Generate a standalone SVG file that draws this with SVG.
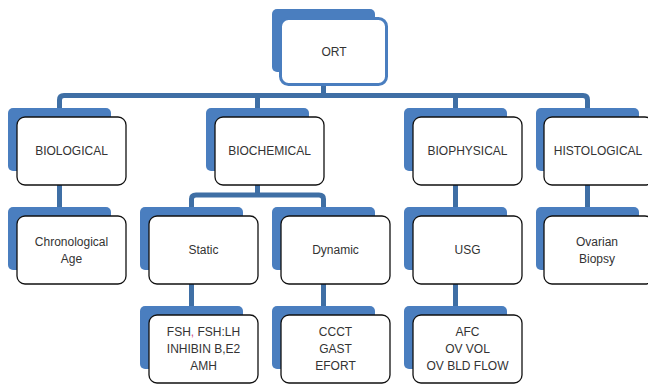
<svg xmlns="http://www.w3.org/2000/svg" width="648" height="384" viewBox="0 0 648 384">
<style>
.sh{fill:#4A7EBF}
.bx{fill:#fff;stroke:#111;stroke-width:1.3}
.rt{fill:#fff;stroke:#4A7EBF;stroke-width:3}
.t{font-family:"Liberation Sans",Arial,sans-serif;font-size:12px;fill:#333;text-anchor:middle;dominant-baseline:central}
.c{fill:none;stroke:#3F6FA5;stroke-width:5}
</style>
<rect width="648" height="384" fill="#fff"/>
<g id="connectors">
<path class="c" d="M323.5,84 V95"/>
<path class="c" d="M59.5,108 V100 Q59.5,95.5 64,95.5 H583 Q587.5,95.5 587.5,100 V108"/>
<path class="c" d="M257.5,95 V108 M455.5,95 V108"/>
<path class="c" d="M59.5,185 V207 M455.5,185 V207 M587.5,185 V207"/>
<path class="c" d="M257.5,185 V195"/>
<path class="c" d="M191.5,207 V199 Q191.5,195 196,195 H319 Q323.5,195 323.5,199 V207"/>
<path class="c" d="M191.5,284 V306 M323.5,284 V306 M455.5,284 V306"/>
</g>
<g id="ORT">
<rect class="sh" x="272" y="9" width="103" height="63" rx="5"/>
<rect class="rt" x="280.5" y="18.5" width="106" height="66" rx="8"/>
<text class="t" x="334" y="52">ORT</text>
</g>
<g id="BIOLOGICAL">
<rect class="sh" x="8" y="108" width="103" height="63" rx="5"/>
<rect class="bx" x="17" y="117" width="109" height="68" rx="8"/>
<text class="t" x="71.5" y="151">BIOLOGICAL</text>
</g>
<g id="BIOCHEMICAL">
<rect class="sh" x="206" y="108" width="103" height="63" rx="5"/>
<rect class="bx" x="215" y="117" width="109" height="68" rx="8"/>
<text class="t" x="269.5" y="151">BIOCHEMICAL</text>
</g>
<g id="BIOPHYSICAL">
<rect class="sh" x="404" y="108" width="103" height="63" rx="5"/>
<rect class="bx" x="413" y="117" width="109" height="68" rx="8"/>
<text class="t" x="467.5" y="151">BIOPHYSICAL</text>
</g>
<g id="HISTOLOGICAL">
<rect class="sh" x="536" y="108" width="103" height="63" rx="5"/>
<rect class="bx" x="544" y="117" width="109" height="68" rx="8"/>
<text class="t" x="598" y="151">HISTOLOGICAL</text>
</g>
<g id="ChronologicalAge">
<rect class="sh" x="8" y="207" width="103" height="63" rx="5"/>
<rect class="bx" x="17" y="216" width="109" height="68" rx="8"/>
<text class="t" x="71.5" y="241.5">Chronological</text>
<text class="t" x="71.5" y="258.5">Age</text>
</g>
<g id="Static">
<rect class="sh" x="140" y="207" width="103" height="63" rx="5"/>
<rect class="bx" x="149" y="216" width="109" height="68" rx="8"/>
<text class="t" x="203.5" y="250">Static</text>
</g>
<g id="Dynamic">
<rect class="sh" x="272" y="207" width="103" height="63" rx="5"/>
<rect class="bx" x="281" y="216" width="109" height="68" rx="8"/>
<text class="t" x="335.5" y="250">Dynamic</text>
</g>
<g id="USG">
<rect class="sh" x="404" y="207" width="103" height="63" rx="5"/>
<rect class="bx" x="413" y="216" width="109" height="68" rx="8"/>
<text class="t" x="467.5" y="250">USG</text>
</g>
<g id="OvarianBiopsy">
<rect class="sh" x="536" y="207" width="103" height="63" rx="5"/>
<rect class="bx" x="544" y="216" width="109" height="68" rx="8"/>
<text class="t" x="597" y="241.5">Ovarian</text>
<text class="t" x="597" y="258.5">Biopsy</text>
</g>
<g id="StaticTests">
<rect class="sh" x="140" y="306" width="103" height="63" rx="5"/>
<rect class="bx" x="149" y="315" width="109" height="68" rx="8"/>
<text class="t" x="203.5" y="332">FSH<tspan fill="#d0508a">,</tspan> FSH:LH</text>
<text class="t" x="203.5" y="349">INHIBIN B,E2</text>
<text class="t" x="203.5" y="366">AMH</text>
</g>
<g id="DynamicTests">
<rect class="sh" x="272" y="306" width="103" height="63" rx="5"/>
<rect class="bx" x="281" y="315" width="109" height="68" rx="8"/>
<text class="t" x="335.5" y="332">CCCT</text>
<text class="t" x="335.5" y="349">GAST</text>
<text class="t" x="335.5" y="366">EFORT</text>
</g>
<g id="USGTests">
<rect class="sh" x="404" y="306" width="103" height="63" rx="5"/>
<rect class="bx" x="413" y="315" width="109" height="68" rx="8"/>
<text class="t" x="467.5" y="332">AFC</text>
<text class="t" x="467.5" y="349">OV VOL</text>
<text class="t" x="467.5" y="366">OV BLD FLOW</text>
</g>
</svg>
